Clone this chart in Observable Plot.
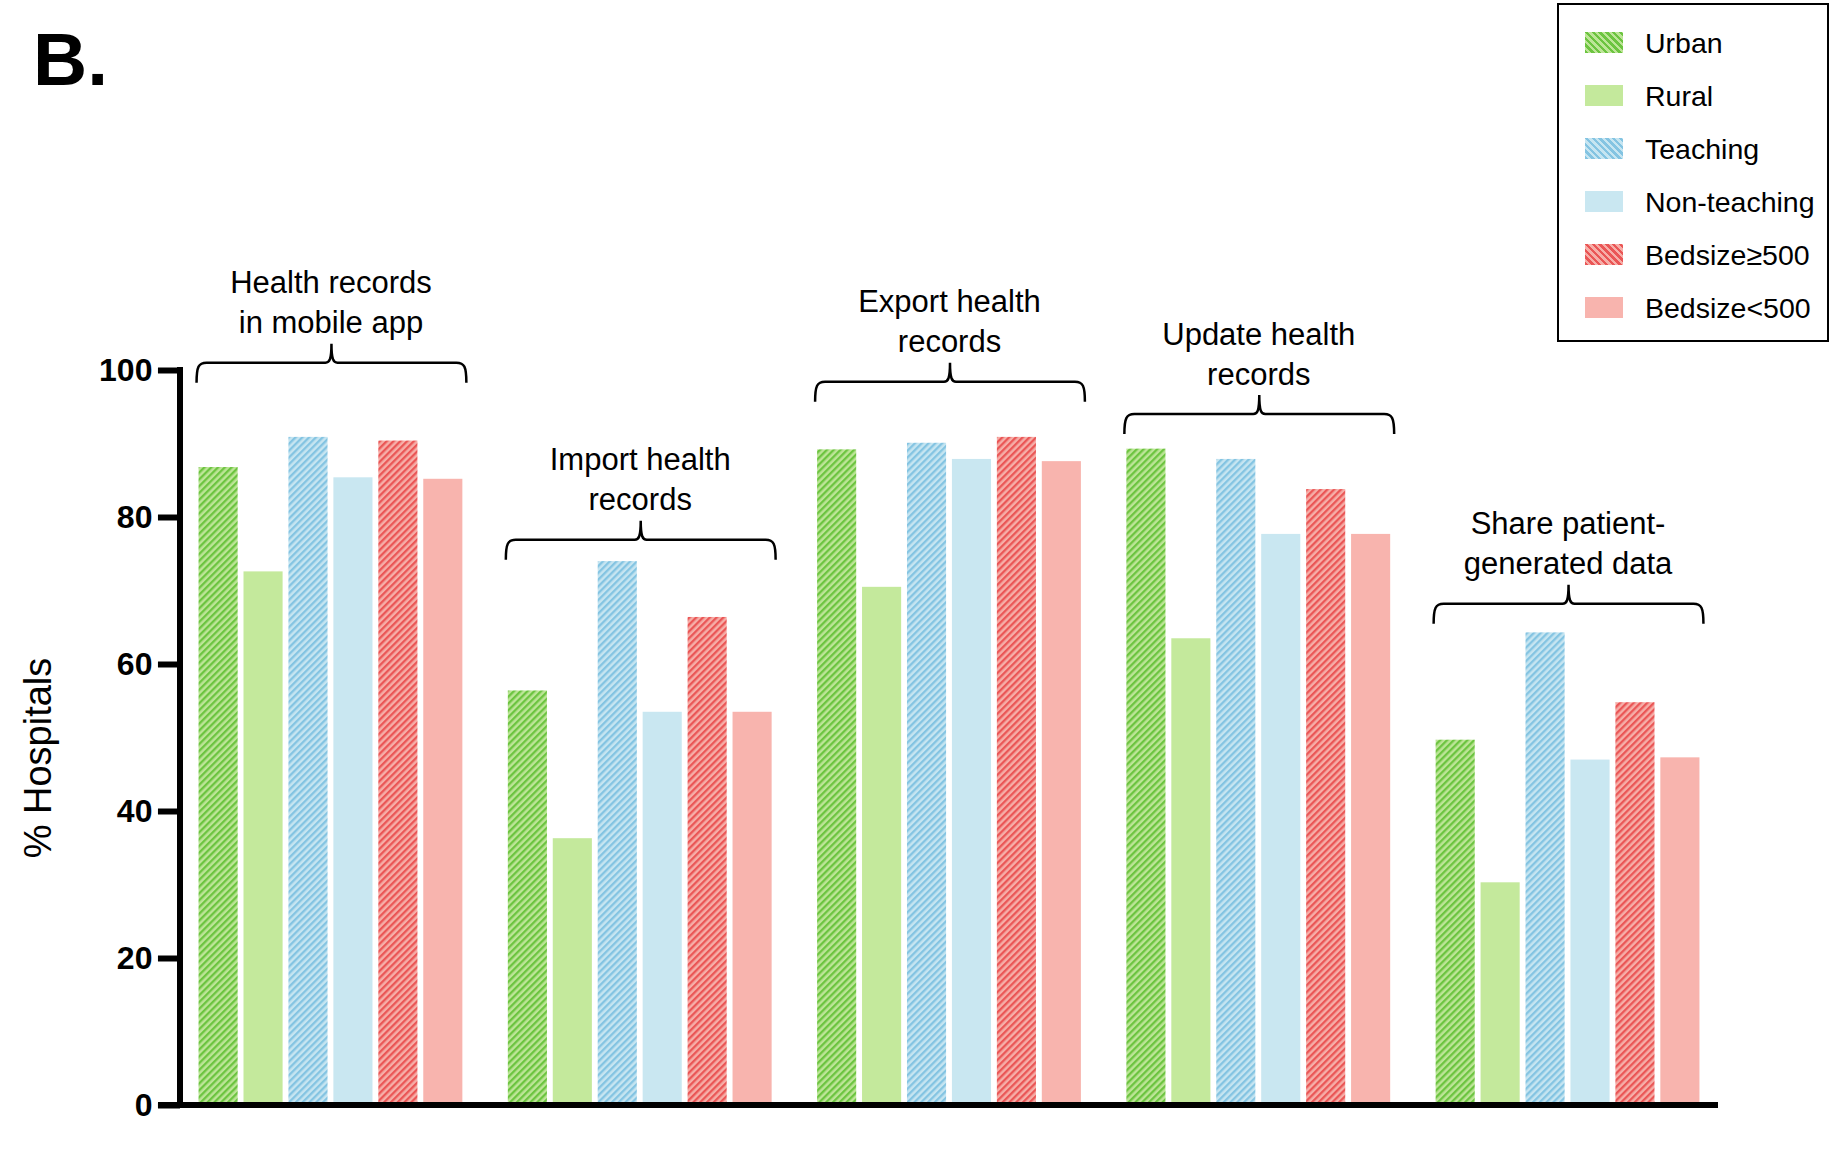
<!DOCTYPE html>
<html>
<head>
<meta charset="utf-8">
<script src="https://cdn.jsdelivr.net/npm/d3@7"></script>
<script src="https://cdn.jsdelivr.net/npm/@observablehq/plot@0.6"></script>
<style>
  body { margin: 0; background: #fff; font-family: "Liberation Sans", Arial, sans-serif; }
  #wrap { position: relative; width: 1834px; height: 1159px; overflow: hidden; }
  #panel { position: absolute; left: 33px; top: 22px; font-size: 75px; font-weight: bold; line-height: 75px; }
  #ylabel { position: absolute; left: 38px; top: 758px; font-size: 38px; line-height: 38px; white-space: nowrap;
            transform: translate(-50%, -50%) rotate(-90deg); }
  #legend { position: absolute; left: 1557px; top: 3px; width: 272px; height: 339px; box-sizing: border-box;
            border: 2px solid #000; background: #fff; }
  .row { position: absolute; left: 26px; height: 21px; display: flex; align-items: center; }
  .sw { width: 38px; height: 21px; margin-right: 22px; flex: none; }
  .lab { font-size: 28.5px; line-height: 28px; white-space: nowrap; }
  #defs { position: absolute; width: 0; height: 0; }
  #chart { position: absolute; left: 0; top: 0; }
</style>
</head>
<body>
<div id="wrap">
  <svg id="defs" width="0" height="0"><defs></defs></svg>
  <div id="chart"></div>
  <div id="panel">B.</div>
  <div id="ylabel">% Hospitals</div>
  <div id="legend"></div>
</div>
<script>
// ---- data ----
const groups = ["mobile", "import", "export", "update", "share"];
const groupLabels = [
  "Health records\nin mobile app",
  "Import health\nrecords",
  "Export health\nrecords",
  "Update health\nrecords",
  "Share patient-\ngenerated data"
];
const categories = ["Urban", "Rural", "Teaching", "Non-teaching", "Bedsize≥500", "Bedsize<500"];
const urban       = [86.8, 56.4, 89.2, 89.3, 49.7];
const rural       = [72.6, 36.3, 70.5, 63.5, 30.3];
const teaching    = [90.9, 74.0, 90.1, 87.9, 64.3];
const nonTeaching = [85.4, 53.5, 87.9, 77.7, 47.0];
const bedLarge    = [90.4, 66.4, 90.9, 83.8, 54.8];
const bedSmall    = [85.2, 53.5, 87.6, 77.7, 47.3];
const braceLevels = [101.0, 76.9, 98.4, 94.0, 68.2];
const yTicks = [0, 20, 40, 60, 80, 100];

// ---- styles ----
const hatch = {
  Urban:        {bg: "#bde597", stripe: "#6cc440"},
  Teaching:     {bg: "#c6e5f1", stripe: "#84c4e2"},
  "Bedsize≥500":{bg: "#f6aea8", stripe: "#ea5656"}
};
const solid = {Rural: "#c4e99c", "Non-teaching": "#c9e7f1", "Bedsize<500": "#f8b4ae"};
const patId = c => "pat-" + categories.indexOf(c);
const fills = categories.map(c => hatch[c] ? `url(#${patId(c)})` : solid[c]);

// patterns
const defs = d3.select("#defs defs");
for (const c of Object.keys(hatch)) {
  const p = defs.append("pattern").attr("id", patId(c)).attr("patternUnits", "userSpaceOnUse")
    .attr("width", 4.8).attr("height", 4.8).attr("patternTransform", "rotate(45)");
  p.append("rect").attr("width", 4.8).attr("height", 4.8).attr("fill", hatch[c].bg);
  p.append("rect").attr("width", 2.3).attr("height", 4.8).attr("fill", hatch[c].stripe);
}

// table
const series = [urban, rural, teaching, nonTeaching, bedLarge, bedSmall];
const data = [];
groups.forEach((g, gi) => categories.forEach((c, ci) => data.push({group: g, category: c, value: series[ci][gi]})));
const annot = groups.map((g, i) => ({group: g, label: groupLabels[i], level: braceLevels[i]}));

const W = 1834, H = 1159;
const fxPadIn = 0.147, fxPadOut = 0.06;
const plot = Plot.plot({
  width: W, height: H,
  marginLeft: 180, marginRight: 116, marginTop: 370, marginBottom: 54,
  style: {fontFamily: "'Liberation Sans', Arial, sans-serif", color: "#000", background: "transparent"},
  fx: {domain: groups, axis: null, paddingInner: fxPadIn, paddingOuter: fxPadOut, round: false, label: null},
  x: {domain: categories, axis: null, paddingInner: 0.13, paddingOuter: 0, round: false},
  y: {domain: [0, 100], label: null},
  color: {domain: categories, range: fills},
  marks: [
    Plot.barY(data, {fx: "group", x: "category", y: "value", fill: "category"}),
    Plot.axisY({ticks: yTicks, tickSize: 22, tickPadding: 6, strokeWidth: 6, fontSize: 32, fontWeight: "bold",
                dx: -18.6, label: null, tickFormat: d => String(d)}),
    Plot.text(annot, {fx: "group", y: "level", text: "label", frameAnchor: "middle", lineAnchor: "bottom",
                      dy: -30, fontSize: 31, lineHeight: 1.29, fill: "#000"})
  ]
});
document.getElementById("chart").appendChild(plot);

// axis lines and braces from the plot's own scales
const fx = plot.scale("fx"), y = plot.scale("y");
const bw = fx.bandwidth;
const svg = d3.select(plot);
const g = svg.append("g").attr("fill", "none").attr("stroke", "#000");
const xAxis = fx.range ? fx.range[0] : fx.apply(groups[0]) - 18.6;
const xEnd = fx.range ? fx.range[1] : fx.apply(groups[groups.length - 1]) + bw + 17;
g.append("line").attr("x1", xAxis).attr("x2", xAxis).attr("y1", y.apply(100) - 3).attr("y2", y.apply(0) + 3).attr("stroke-width", 6);
g.append("line").attr("x1", xAxis - 22).attr("x2", xEnd).attr("y1", y.apply(0)).attr("y2", y.apply(0)).attr("stroke-width", 6);
annot.forEach(a => {
  const x0 = fx.apply(a.group) - 2, x1 = fx.apply(a.group) + bw + 4, xm = (x0 + x1) / 2, yl = y.apply(a.level);
  const path = `M${x0},${yl + 20} C${x0},${yl + 4} ${x0 + 2},${yl} ${x0 + 10},${yl} H${xm - 6} C${xm - 2},${yl} ${xm},${yl - 3} ${xm},${yl - 19}`
    + ` M${xm},${yl - 19} C${xm},${yl - 3} ${xm + 2},${yl} ${xm + 6},${yl} H${x1 - 10} C${x1 - 2},${yl} ${x1},${yl + 4} ${x1},${yl + 20}`;
  g.append("path").attr("d", path).attr("stroke-width", 2.5);
});

// legend
const legend = d3.select("#legend");
categories.forEach((c, i) => {
  const row = legend.append("div").attr("class", "row").style("top", (27 + i * 53) + "px");
  const sw = row.append("div").attr("class", "sw");
  if (hatch[c]) sw.style("background", `repeating-linear-gradient(45deg, ${hatch[c].stripe} 0 2.4px, ${hatch[c].bg} 2.4px 4.8px)`);
  else sw.style("background", solid[c]);
  row.append("div").attr("class", "lab").text(c);
});
</script>
</body>
</html>
